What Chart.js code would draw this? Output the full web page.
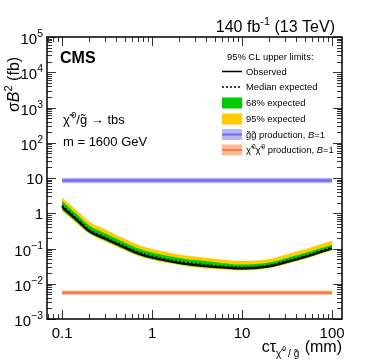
<!DOCTYPE html>
<html>
<head>
<meta charset="utf-8">
<script src="https://cdn.jsdelivr.net/npm/chart.js@4/dist/chart.umd.min.js"></script>
<style>
  html, body { margin: 0; padding: 0; background: #fff; }
  canvas { display: block; }
</style>
</head>
<body>
<canvas id="chart" width="374" height="363"></canvas>
<script>
// c*tau (mm) grid and limits (fb)
const ctau = [0.1, 0.15, 0.2, 0.3, 0.5, 0.7, 1, 2, 3, 5, 10, 20, 30, 50, 100];
const observed = [1.5, 0.6, 0.31, 0.19, 0.105, 0.072, 0.055, 0.039, 0.034, 0.030, 0.027, 0.031, 0.040, 0.057, 0.10];
const expMedian = [1.62, 0.65, 0.335, 0.205, 0.113, 0.078, 0.060, 0.042, 0.037, 0.032, 0.029, 0.033, 0.043, 0.061, 0.107];
const exp68Up = [2.2, 0.88, 0.45, 0.27, 0.145, 0.10, 0.077, 0.054, 0.047, 0.041, 0.035, 0.040, 0.052, 0.074, 0.125];
const exp68Down = [1.25, 0.52, 0.28, 0.17, 0.094, 0.065, 0.050, 0.036, 0.031, 0.028, 0.025, 0.029, 0.037, 0.053, 0.094];
const exp95Up = [2.8, 1.12, 0.58, 0.35, 0.185, 0.127, 0.097, 0.068, 0.059, 0.051, 0.044, 0.050, 0.066, 0.095, 0.165];
const exp95Down = [1.14, 0.48, 0.26, 0.158, 0.088, 0.061, 0.047, 0.034, 0.029, 0.026, 0.0237, 0.0275, 0.035, 0.05, 0.089];

// theory cross sections (flat in c*tau)
const xsecRange = [0.1, 100];
const ggXsec = [8.5, 8.5];
const ggXsecUp = [10.1, 10.1];
const ggXsecDown = [7.1, 7.1];
const chiXsec = [0.0056, 0.0056];
const chiXsecUp = [0.0064, 0.0064];
const chiXsecDown = [0.0049, 0.0049];

// axis ticks
const xTicks = [0.1, 1, 10, 100];
const xTickLabels = ["0.1", "1", "10", "100"];
const yTicks = [1e5, 1e4, 1e3, 1e2, 10, 1, 0.1, 0.01, 0.001];
const yTickLabels = [["10", "5"], ["10", "4"], ["10", "3"], ["10", "2"], ["10", ""], ["1", ""], ["10", "\u22121"], ["10", "\u22122"], ["10", "\u22123"]];

const FONT = '"Liberation Sans", Arial, Helvetica, sans-serif';
const pts = (xs, ys) => xs.map((x, i) => ({ x: x, y: ys[i] }));

function fnt(p) {
  return (p.st || "") + " " + p.s + "px " + FONT;
}
// draw a run of text pieces (for superscripts, italics...)
function rich(ctx, parts, x, y, align) {
  let w = 0;
  parts.forEach((p) => { ctx.font = fnt(p); w += ctx.measureText(p.t).width + (p.gap || 0); });
  let cx = align === "right" ? x - w : align === "center" ? x - w / 2 : x;
  parts.forEach((p) => {
    ctx.font = fnt(p);
    ctx.fillText(p.t, cx, y + (p.dy || 0));
    cx += ctx.measureText(p.t).width + (p.gap || 0);
  });
}

const decor = {
  id: "decor",
  afterDraw(chart) {
    const { ctx, chartArea: a, scales } = chart;
    const xs = scales.x, ys = scales.y;
    ctx.save();

    // minor/major ticks, drawn inwards on all four sides
    ctx.strokeStyle = "#333";
    ctx.lineWidth = 1;
    ctx.beginPath();
    for (let e = -2; e <= 2; e++) {
      for (let m = 1; m < 10; m++) {
        const v = m * Math.pow(10, e);
        if (v < xs.min || v > xs.max) continue;
        const px = Math.round(xs.getPixelForValue(v)) + 0.5;
        const len = m === 1 ? 9 : 5;
        ctx.moveTo(px, a.bottom); ctx.lineTo(px, a.bottom - len);
        ctx.moveTo(px, a.top); ctx.lineTo(px, a.top + len);
      }
    }
    for (let e = -3; e <= 5; e++) {
      for (let m = 1; m < 10; m++) {
        const v = m * Math.pow(10, e);
        if (v < ys.min * 0.999 || v > ys.max * 1.001) continue;
        const py = Math.round(ys.getPixelForValue(v)) + 0.5;
        const len = m === 1 ? 9 : 5;
        ctx.moveTo(a.left, py); ctx.lineTo(a.left + len, py);
        ctx.moveTo(a.right, py); ctx.lineTo(a.right - len, py);
      }
    }
    ctx.stroke();

    // frame
    ctx.strokeStyle = "#000";
    ctx.lineWidth = 1.5;
    ctx.strokeRect(a.left, a.top, a.right - a.left, a.bottom - a.top);

    ctx.fillStyle = "#000";
    ctx.textBaseline = "alphabetic";

    // x tick labels
    ctx.font = "15px " + FONT;
    ctx.textAlign = "center";
    xTicks.forEach((v, i) => {
      ctx.fillText(xTickLabels[i], xs.getPixelForValue(v), a.bottom + 19);
    });

    // y tick labels
    ctx.textAlign = "left";
    yTicks.forEach((v, i) => {
      const py = ys.getPixelForValue(v);
      const [b, s] = yTickLabels[i];
      const parts = [{ t: b, s: 15 }];
      if (s) parts.push({ t: s, s: 10.5, dy: -7 });
      rich(ctx, parts, 43, py + (s ? 7 : 6), "right");
    });

    // axis titles
    rich(ctx, [
      { t: "c\u03c4", s: 16 },
      { t: "\u03c7\u0303", s: 10, dy: 5, gap: 1 },
      { t: "0", s: 7, dy: -1, gap: 2 },
      { t: "/ g\u0303", s: 10, dy: 5, gap: 1 },
      { t: " (mm)", s: 16 }
    ], a.right, 352, "right");

    ctx.save();
    ctx.translate(19, 112);
    ctx.rotate(-Math.PI / 2);
    rich(ctx, [
      { t: "\u03c3", s: 16 },
      { t: "B", s: 16, st: "italic" },
      { t: "2", s: 11, dy: -7 },
      { t: " (fb)", s: 16 }
    ], 0, 0, "left");
    ctx.restore();

    // header texts
    rich(ctx, [
      { t: "140 fb", s: 16 },
      { t: "-1", s: 11, dy: -7 },
      { t: " (13 TeV)", s: 16 }
    ], 335, 32, "right");
    ctx.font = "bold 16px " + FONT;
    ctx.fillText("CMS", 60, 63);

    rich(ctx, [
      { t: "\u03c7\u0303", s: 13, gap: 1.5 },
      { t: "0", s: 9, dy: -6 },
      { t: "/g\u0303 \u2192 tbs", s: 13 }
    ], 63, 124, "left");
    ctx.font = "13px " + FONT;
    ctx.fillText("m = 1600 GeV", 63, 146);

    // legend
    const lx0 = 222, lx1 = 242, tx = 246;
    const fs = 9.4;
    ctx.font = fs + "px " + FONT;
    ctx.fillText("95% CL upper limits:", 227, 60);
    const rowY = [71.5, 87, 103, 119, 134.5, 150];
    const labels = [
      [{ t: "Observed", s: fs }],
      [{ t: "Median expected", s: fs }],
      [{ t: "68% expected", s: fs }],
      [{ t: "95% expected", s: fs }],
      [{ t: "g\u0303g\u0303 production, ", s: fs }, { t: "B", s: fs, st: "italic" }, { t: "=1", s: fs }],
      [{ t: "\u03c7\u0303", s: fs, gap: 1 }, { t: "0", s: 6.5, dy: -4 }, { t: "\u03c7\u0303", s: fs, gap: 1 }, { t: "0", s: 6.5, dy: -4 },
       { t: " production, ", s: fs }, { t: "B", s: fs, st: "italic" }, { t: "=1", s: fs }]
    ];
    labels.forEach((l, i) => rich(ctx, l, tx, rowY[i] + 3.4, "left"));

    ctx.lineWidth = 1.5;
    ctx.strokeStyle = "#000";
    ctx.beginPath(); ctx.moveTo(lx0, rowY[0]); ctx.lineTo(lx1, rowY[0]); ctx.stroke();
    ctx.setLineDash([2, 2]);
    ctx.beginPath(); ctx.moveTo(lx0, rowY[1]); ctx.lineTo(lx1, rowY[1]); ctx.stroke();
    ctx.setLineDash([]);
    ctx.fillStyle = "#00cc00"; ctx.fillRect(lx0, rowY[2] - 5.5, lx1 - lx0, 11);
    ctx.fillStyle = "#ffcc00"; ctx.fillRect(lx0, rowY[3] - 5.5, lx1 - lx0, 11);
    ctx.fillStyle = "#b8b8f4"; ctx.fillRect(lx0, rowY[4] - 5.5, lx1 - lx0, 11);
    ctx.fillStyle = "#6e6ee8"; ctx.fillRect(lx0, rowY[4] - 1, lx1 - lx0, 2);
    ctx.fillStyle = "#ffb898"; ctx.fillRect(lx0, rowY[5] - 5.5, lx1 - lx0, 11);
    ctx.fillStyle = "#ff7840"; ctx.fillRect(lx0, rowY[5] - 1, lx1 - lx0, 2);

    ctx.restore();
  }
};

const band = (data, color, fill) => ({
  data: data, borderWidth: 0, pointRadius: 0, fill: fill,
  backgroundColor: color, cubicInterpolationMode: "monotone"
});

new Chart(document.getElementById("chart"), {
  type: "line",
  data: {
    datasets: [
      { data: pts(ctau, observed), borderColor: "#000", borderWidth: 2, pointRadius: 0, fill: false, cubicInterpolationMode: "monotone", order: 0 },
      { data: pts(ctau, expMedian), borderColor: "#000", borderWidth: 2, borderDash: [2, 2], pointRadius: 0, fill: false, cubicInterpolationMode: "monotone", order: 1 },
      Object.assign(band(pts(ctau, exp68Up), "#00cc00", "+1"), { order: 2 }),
      Object.assign(band(pts(ctau, exp68Down), "#00cc00", false), { order: 2 }),
      Object.assign(band(pts(ctau, exp95Up), "#ffcc00", "+1"), { order: 3 }),
      Object.assign(band(pts(ctau, exp95Down), "#ffcc00", false), { order: 3 }),
      { data: pts(xsecRange, ggXsec), borderColor: "#6e6ee8", borderWidth: 2.5, pointRadius: 0, fill: false, order: 4 },
      Object.assign(band(pts(xsecRange, ggXsecUp), "#b8b8f4", "+1"), { order: 5 }),
      Object.assign(band(pts(xsecRange, ggXsecDown), "#b8b8f4", false), { order: 5 }),
      { data: pts(xsecRange, chiXsec), borderColor: "#ff7840", borderWidth: 2.5, pointRadius: 0, fill: false, order: 4 },
      Object.assign(band(pts(xsecRange, chiXsecUp), "#ffb898", "+1"), { order: 5 }),
      Object.assign(band(pts(xsecRange, chiXsecDown), "#ffb898", false), { order: 5 })
    ]
  },
  options: {
    responsive: false,
    animation: false,
    devicePixelRatio: 1,
    layout: { padding: { left: 47, right: 32, top: 37, bottom: 44 } },
    scales: {
      x: { type: "logarithmic", min: 0.068, max: 129, bounds: "data", display: false },
      y: { type: "logarithmic", min: 1e-3, max: 1e5, bounds: "data", display: false }
    },
    plugins: { legend: { display: false }, tooltip: { enabled: false } }
  },
  plugins: [decor]
});
</script>
</body>
</html>
